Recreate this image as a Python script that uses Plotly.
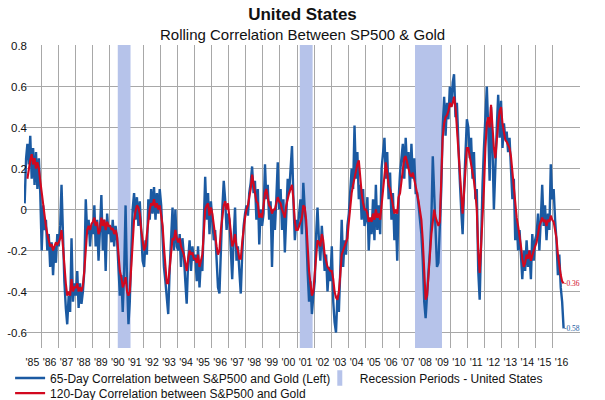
import plotly.graph_objects as go

FIRST_YEAR = 1985

# monthly readings, Jan 1985 .. Aug 2016
CORR_65D = [
    0.03, 0.25, 0.32, 0.22, 0.36, 0.15, 0.30, 0.12, 0.28, 0.10, 0.25, 0.08,  # 1985
    -0.20, 0.02, -0.10, -0.05, -0.20, -0.12, -0.28, -0.16, -0.32, -0.18, -0.26, -0.12,  # 1986
    -0.18, -0.08, 0.12, -0.20, -0.35, -0.48, -0.56, -0.42, -0.50, -0.14, -0.45, -0.36,  # 1987
    -0.42, -0.30, -0.48, -0.36, -0.46, -0.40, -0.30, 0.05, -0.12, -0.05, -0.18, -0.08,  # 1988
    -0.12, 0.02, -0.18, -0.05, -0.25, -0.10, 0.07, -0.20, -0.05, -0.30, -0.02, -0.12,  # 1989
    -0.08, -0.16, -0.05, -0.18, -0.08, -0.14, -0.28, -0.42, -0.32, -0.50, -0.30, 0.02,  # 1990
    -0.35, -0.56, -0.45, -0.20, 0.00, 0.08, -0.05, 0.06, -0.08, 0.04, -0.12, -0.25,  # 1991
    -0.28, -0.15, -0.22, 0.05, -0.05, 0.10, -0.02, 0.11, -0.05, 0.08, -0.02, 0.10,  # 1992
    0.02, -0.15, -0.28, -0.35, -0.45, -0.51, -0.30, -0.15, 0.01, -0.20, 0.00, -0.18,  # 1993
    -0.20, -0.12, -0.28, -0.14, -0.22, -0.35, -0.46, -0.25, -0.15, -0.30, -0.18, -0.25,  # 1994
    -0.22, -0.35, -0.18, -0.38, -0.25, -0.30, -0.05, 0.16, -0.05, 0.08, -0.12, 0.04,  # 1995
    -0.05, -0.15, -0.10, -0.28, -0.38, -0.41, -0.15, 0.00, 0.14, 0.05, -0.10, -0.02,  # 1996
    -0.05, -0.22, -0.34, -0.15, 0.01, -0.25, -0.18, -0.30, -0.41, -0.22, -0.08, -0.02,  # 1997
    0.02, -0.03, 0.08, 0.13, 0.21, 0.08, 0.14, -0.05, 0.10, -0.17, 0.00, -0.08,  # 1998
    -0.02, 0.22, 0.05, 0.12, -0.05, 0.04, -0.28, 0.00, -0.10, 0.05, 0.23, 0.00,  # 1999
    0.10, -0.10, 0.05, -0.21, 0.02, 0.15, 0.08, 0.20, 0.31, 0.05, -0.15, -0.05,  # 2000
    -0.10, -0.02, 0.05, -0.12, 0.13, 0.00, -0.10, -0.30, -0.45, -0.35, -0.51, -0.42,  # 2001
    -0.35, -0.12, 0.01, -0.15, -0.25, -0.08, -0.20, -0.30, -0.22, -0.40, -0.28, -0.35,  # 2002
    -0.18, -0.45, -0.55, -0.60, -0.42, -0.50, -0.30, -0.05, -0.28, -0.15, -0.22, -0.08,  # 2003
    -0.02, 0.08, 0.20, 0.10, 0.41, 0.15, 0.28, 0.05, 0.12, -0.05, 0.10, -0.08,  # 2004
    -0.05, 0.06, -0.20, -0.05, -0.12, 0.05, -0.15, 0.12, -0.10, 0.02, -0.12, 0.20,  # 2005
    0.30, 0.35, 0.15, 0.28, 0.05, 0.18, -0.05, 0.08, -0.15, -0.02, -0.25, 0.05,  # 2006
    0.18, 0.26, 0.32, 0.15, 0.35, 0.20, 0.28, 0.10, 0.32, 0.15, 0.25, 0.08,  # 2007
    0.08, 0.02, -0.05, -0.12, -0.25, -0.45, -0.53, -0.38, -0.30, -0.20, -0.05, 0.26,  # 2008
    0.05, -0.05, -0.28, -0.26, -0.12, 0.10, 0.40, 0.55, 0.36, 0.52, 0.44, 0.60,  # 2009
    0.50, 0.62, 0.66, 0.45, 0.52, 0.30, 0.15, 0.00, -0.12, 0.10, 0.30, 0.44,  # 2010
    0.40, 0.25, 0.35, 0.15, 0.28, 0.05, 0.10, -0.30, -0.44, -0.10, 0.12, 0.30,  # 2011
    0.45, 0.60, 0.40, 0.14, 0.50, 0.30, 0.00, 0.25, 0.40, 0.56, 0.35, 0.53,  # 2012
    0.30, 0.42, 0.35, 0.38, 0.28, 0.35, 0.22, 0.05, 0.15, -0.15, -0.05, -0.20,  # 2013
    -0.10, -0.25, -0.34, -0.20, -0.30, -0.15, -0.28, -0.20, -0.34, -0.12, -0.25, -0.15,  # 2014
    -0.12, -0.02, -0.20, -0.05, 0.12, -0.08, 0.02, -0.15, -0.02, -0.10, 0.22, 0.05,  # 2015
    0.10, -0.05, -0.15, -0.32, -0.22, -0.38, -0.45, -0.58,  # 2016
]

CORR_120D = [
    None, None, 0.15, 0.20, 0.24, 0.27, 0.22, 0.25, 0.20, 0.23, 0.20, 0.14,  # 1985
    0.08, 0.02, -0.04, -0.08, -0.12, -0.15, -0.18, -0.17, -0.20, -0.18, -0.16, -0.17,  # 1986
    -0.16, -0.14, -0.10, -0.18, -0.28, -0.36, -0.42, -0.40, -0.42, -0.34, -0.40, -0.38,  # 1987
    -0.38, -0.36, -0.40, -0.38, -0.40, -0.37, -0.30, -0.18, -0.10, -0.08, -0.10, -0.07,  # 1988
    -0.06, -0.04, -0.08, -0.06, -0.12, -0.10, -0.04, -0.08, -0.05, -0.10, -0.06, -0.08,  # 1989
    -0.08, -0.10, -0.09, -0.12, -0.10, -0.13, -0.22, -0.30, -0.33, -0.38, -0.36, -0.33,  # 1990
    -0.40, -0.42, -0.40, -0.28, -0.15, -0.05, -0.01, 0.02, 0.01, -0.02, -0.10, -0.16,  # 1991
    -0.20, -0.18, -0.12, -0.04, 0.00, 0.03, 0.02, 0.05, 0.01, 0.03, 0.00, 0.02,  # 1992
    -0.02, -0.08, -0.18, -0.30, -0.36, -0.36, -0.28, -0.20, -0.14, -0.15, -0.10, -0.14,  # 1993
    -0.16, -0.14, -0.18, -0.20, -0.22, -0.26, -0.30, -0.24, -0.20, -0.22, -0.21, -0.24,  # 1994
    -0.24, -0.26, -0.22, -0.28, -0.24, -0.22, -0.12, 0.00, 0.02, 0.03, -0.03, 0.01,  # 1995
    -0.02, -0.08, -0.12, -0.18, -0.22, -0.20, -0.10, -0.02, 0.02, 0.04, 0.00, 0.03,  # 1996
    -0.04, -0.10, -0.18, -0.16, -0.12, -0.18, -0.20, -0.24, -0.24, -0.16, -0.08, -0.04,  # 1997
    0.00, 0.02, 0.06, 0.10, 0.17, 0.12, 0.09, 0.04, 0.03, -0.04, -0.02, -0.04,  # 1998
    0.02, 0.08, 0.10, 0.06, 0.02, 0.01, -0.02, 0.00, 0.00, 0.03, 0.06, 0.04,  # 1999
    0.03, 0.00, -0.02, -0.04, 0.02, 0.06, 0.08, 0.10, 0.12, 0.05, -0.06, -0.10,  # 2000
    -0.10, -0.08, -0.06, -0.04, 0.02, 0.01, -0.05, -0.18, -0.30, -0.36, -0.42, -0.40,  # 2001
    -0.30, -0.20, -0.15, -0.16, -0.18, -0.12, -0.15, -0.22, -0.25, -0.28, -0.29, -0.30,  # 2002
    -0.30, -0.34, -0.40, -0.43, -0.44, -0.40, -0.32, -0.22, -0.20, -0.18, -0.17, -0.14,  # 2003
    -0.06, 0.02, 0.08, 0.12, 0.16, 0.20, 0.22, 0.24, 0.15, 0.08, 0.03, 0.00,  # 2004
    0.00, -0.02, -0.06, -0.04, -0.06, -0.02, -0.05, 0.00, -0.04, -0.02, -0.05, 0.02,  # 2005
    0.12, 0.20, 0.23, 0.18, 0.12, 0.10, 0.06, 0.03, -0.02, 0.00, -0.02, 0.06,  # 2006
    0.08, 0.14, 0.20, 0.25, 0.26, 0.22, 0.20, 0.17, 0.16, 0.18, 0.15, 0.12,  # 2007
    0.08, 0.04, 0.00, -0.05, -0.15, -0.30, -0.44, -0.42, -0.30, -0.20, -0.12, -0.06,  # 2008
    0.00, -0.04, -0.06, -0.08, -0.06, 0.12, 0.35, 0.42, 0.45, 0.46, 0.48, 0.52,  # 2009
    0.50, 0.52, 0.55, 0.50, 0.40, 0.30, 0.18, 0.05, -0.02, 0.08, 0.20, 0.30,  # 2010
    0.30, 0.26, 0.22, 0.18, 0.14, 0.08, 0.00, -0.20, -0.31, -0.18, -0.05, 0.10,  # 2011
    0.30, 0.42, 0.45, 0.40, 0.51, 0.40, 0.30, 0.25, 0.35, 0.42, 0.48, 0.50,  # 2012
    0.42, 0.38, 0.34, 0.33, 0.31, 0.30, 0.26, 0.18, 0.10, 0.02, -0.04, -0.08,  # 2013
    -0.12, -0.18, -0.24, -0.28, -0.26, -0.22, -0.24, -0.20, -0.25, -0.22, -0.20, -0.18,  # 2014
    -0.16, -0.12, -0.08, -0.06, -0.04, -0.06, -0.05, -0.08, -0.05, -0.06, -0.03, -0.05,  # 2015
    -0.06, -0.10, -0.14, -0.22, -0.28, -0.32, -0.35, -0.36,  # 2016
]

RECESSIONS = [
    ("1990-07-01", "1991-03-31"),
    ("2001-03-01", "2001-11-30"),
    ("2007-12-01", "2009-06-30"),
]

LABEL_YEARS = list(range(1985, 2017))
Y_TICKS = [-0.6, -0.4, -0.2, 0, 0.2, 0.4, 0.6, 0.8]
Y_TICK_TEXT = ["-0.6", "-0.4", "-0.2", "0", "0.2", "0.4", "0.6", "0.8"]
# chosen so 0.2 steps land on whole pixels (205 px per unit over 303 px)
Y_RANGE = [-0.6756, 0.8024]
X_RANGE = ["1985-01-01", "2017-08-01"]
GRID_HALF = 0.003  # half thickness of a horizontal gridline, in y units

BLUE = "#1b5aa2"
RED = "#d2081f"
BAND = "#b6c3ea"
GRID = "#a8a8a8"
FONT = "Liberation Sans, Arial, sans-serif"


def month_dates(n):
    dates = []
    for i in range(n):
        y, m = divmod(i, 12)
        dates.append(f"{FIRST_YEAR + y}-{m + 1:02d}-15")
    return dates


def boxes(spans):
    # closed boxes separated by gaps, for a single fill="toself" trace
    xs, ys = [], []
    for x0, x1, y0, y1 in spans:
        xs += [x0, x0, x1, x1, x0, None]
        ys += [y0, y1, y1, y0, y0, None]
    return xs, ys


def main():
    dates = month_dates(len(CORR_65D))
    lo, hi = Y_RANGE
    band_x, band_y = boxes([(s, e, lo, hi) for s, e in RECESSIONS])
    grid_x, grid_y = boxes([(X_RANGE[0], X_RANGE[1], v - GRID_HALF, v + GRID_HALF)
                            for v in Y_TICKS[:-1]])

    fig = go.Figure()
    # horizontal gridlines, kept as thin filled strips under the bands
    fig.add_trace(go.Scatter(
        x=grid_x, y=grid_y, mode="lines", fill="toself",
        fillcolor=GRID, line=dict(width=0, color=GRID),
        hoverinfo="skip", showlegend=False,
    ))
    fig.add_trace(go.Scatter(
        x=band_x, y=band_y, mode="lines", fill="toself",
        fillcolor=BAND, line=dict(width=0, color=BAND),
        hoverinfo="skip", showlegend=False,
    ))
    fig.add_trace(go.Scatter(
        x=dates, y=CORR_65D, mode="lines",
        line=dict(color=BLUE, width=2.4),
        name="65-Day Correlation between S&P500 and Gold (Left)",
        legend="legend",
    ))
    fig.add_trace(go.Scatter(
        x=dates, y=CORR_120D, mode="lines",
        line=dict(color=RED, width=2.1),
        name="120-Day Correlation between S&P500 and Gold",
        legend="legend3",
    ))
    # legend entry for the shaded bands
    fig.add_trace(go.Scatter(
        x=[None], y=[None], mode="markers",
        marker=dict(symbol="line-ns", size=11, line=dict(width=5, color=BAND)),
        name="Recession Periods - United States",
        legend="legend2",
    ))

    fig.add_annotation(x=dates[-1], y=CORR_120D[-1], text=f"{CORR_120D[-1]:.2f}",
                       xanchor="left", xshift=-2, showarrow=False,
                       font=dict(size=7.5, color=RED, family="Liberation Serif"))
    fig.add_annotation(x=dates[-1], y=CORR_65D[-1], text=f"{CORR_65D[-1]:.2f}",
                       xanchor="left", xshift=-2, showarrow=False,
                       font=dict(size=7.5, color=BLUE, family="Liberation Serif"))

    fig.add_annotation(text="Rolling Correlation Between SP500 & Gold",
                       xref="paper", yref="paper", x=0.5, y=1.035,
                       xanchor="center", yanchor="middle", showarrow=False,
                       font=dict(size=15, color="#111"))

    fig.update_xaxes(
        type="date",
        range=X_RANGE,
        tickvals=[f"{y}-07-01" for y in LABEL_YEARS],
        ticktext=[f"'{y % 100:02d}" for y in LABEL_YEARS],
        showgrid=False, zeroline=False, showline=False, ticks="",
        tickfont=dict(size=10.5, color="#111"),
        ticklabelstandoff=6,
        minor=dict(tickvals=[f"{y}-01-01" for y in LABEL_YEARS[1:]],
                   showgrid=True, gridcolor=GRID, gridwidth=1),
        automargin=False,
    )
    fig.update_yaxes(
        range=Y_RANGE,
        tickvals=Y_TICKS, ticktext=Y_TICK_TEXT,
        showgrid=False, zeroline=False, showline=False, ticks="",
        tickfont=dict(size=11.5, color="#111"),
        ticklabelstandoff=-4,
        automargin=False,
    )

    legend_common = dict(orientation="h", xanchor="left", yanchor="middle",
                         font=dict(size=12), itemwidth=30,
                         bgcolor="rgba(0,0,0,0)")
    fig.update_layout(
        width=605, height=400,
        margin=dict(l=24, r=25, t=45, b=52, autoexpand=False),
        paper_bgcolor="white", plot_bgcolor="white",
        font=dict(family=FONT, color="#111"),
        title=dict(text="<b>United States</b>", x=0.5, xanchor="center",
                   y=0.965, yanchor="middle", font=dict(size=17, color="#111")),
        showlegend=True,
        legend=dict(x=-0.025, y=-0.099, **legend_common),
        legend2=dict(x=0.532, y=-0.099, **legend_common),
        legend3=dict(x=-0.025, y=-0.149, **legend_common),
    )

    # drop the page's default body margin so the figure sits at the corner
    fig.write_html("out.html", config={"displayModeBar": False},
                   post_script="document.body.style.margin='0';")


if __name__ == "__main__":
    main()
